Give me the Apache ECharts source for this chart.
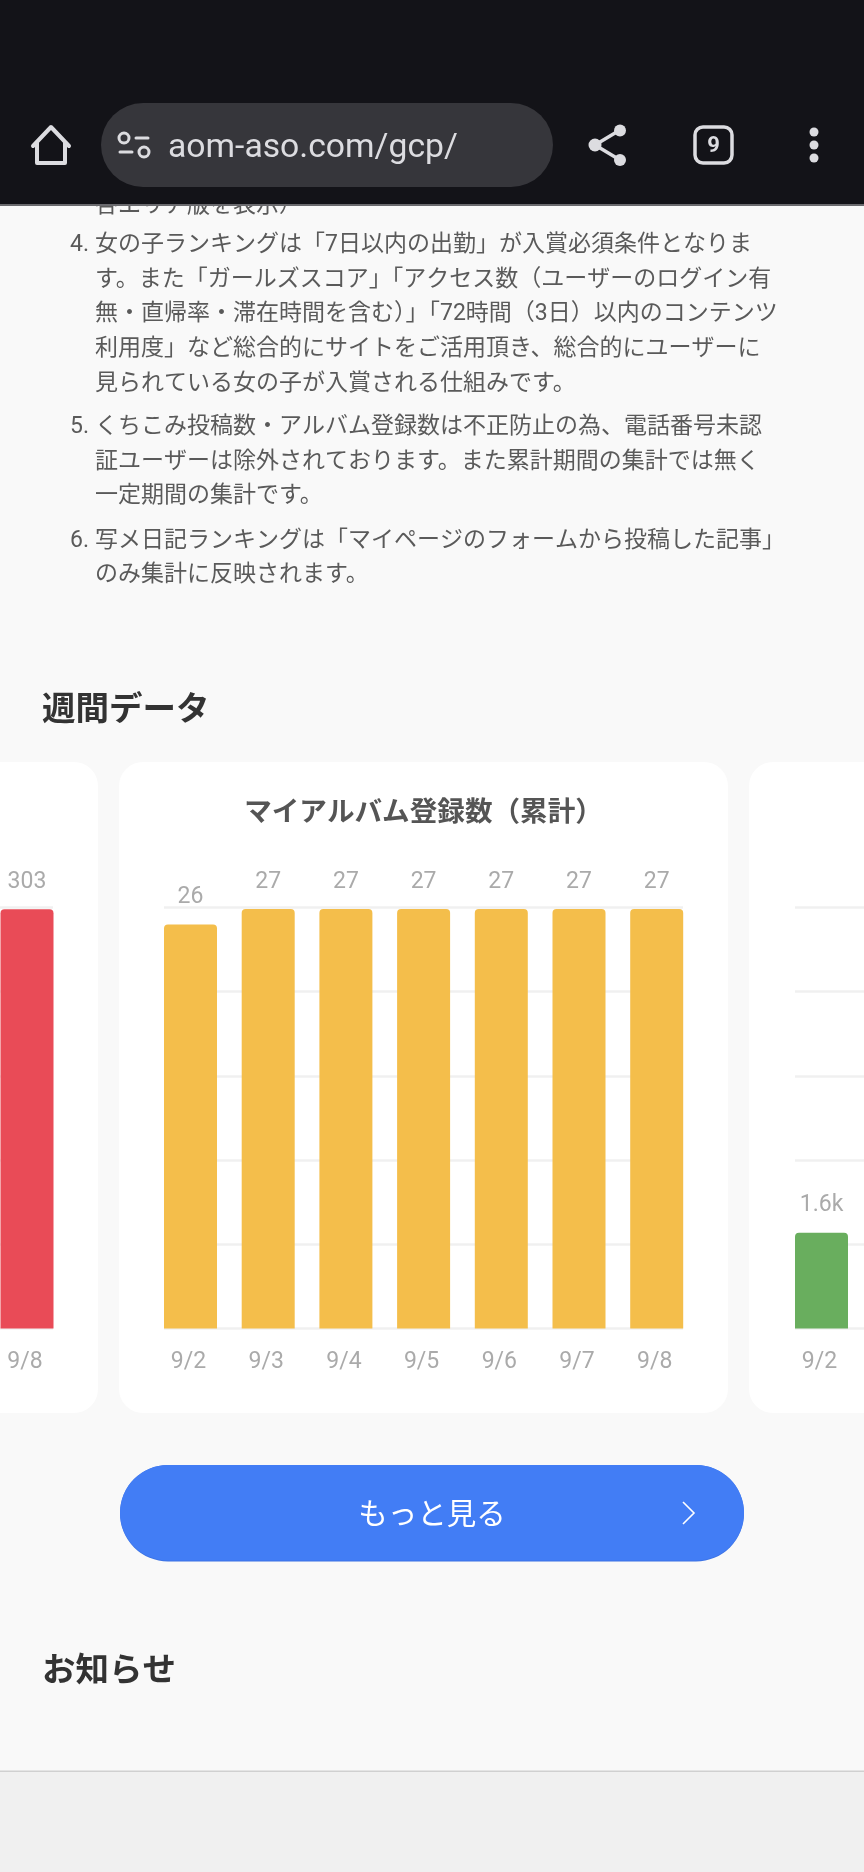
<!DOCTYPE html>
<html><head><meta charset="utf-8">
<style>html,body{margin:0;padding:0;background:#f9f9f9}#c{width:864px;height:1872px}</style>
<script src="https://cdn.jsdelivr.net/npm/echarts@6/dist/echarts.min.js"></script>
</head><body><div id="c"></div>
<script>
const JP = 'Roboto, "Noto Sans CJK JP", sans-serif';
const pageTitle = '週間データ';
const chartTitle = 'マイアルバム登録数（累計）';
const moreLabel = 'もっと見る';
const newsTitle = 'お知らせ';
const urlText = 'aom-aso.com/gcp/';
const tabCount = '9';
const clippedLine = '各エリア版を表示）';
const listNumbers = ['4.', '5.', '6.'];
const listLine4 = ['女の子ランキングは「7日以内の出勤」が入賞必須条件となりま','す。また「ガールズスコア」「アクセス数（ユーザーのログイン有','無・直帰率・滞在時間を含む）」「72時間（3日）以内のコンテンツ','利用度」など総合的にサイトをご活用頂き、総合的にユーザーに','見られている女の子が入賞される仕組みです。'];
const listLine5 = ['くちこみ投稿数・アルバム登録数は不正防止の為、電話番号未認','証ユーザーは除外されております。また累計期間の集計では無く','一定期間の集計です。'];
const listLine6 = ['写メ日記ランキングは「マイページのフォームから投稿した記事」','のみ集計に反映されます。'];

const redDays = ['9/8'];
const redValues = [303];
const albumDays = ['9/2','9/3','9/4','9/5','9/6','9/7','9/8'];
const albumValues = [26,27,27,27,27,27,27];
const greenDays = ['9/2'];
const greenValues = [1600];

const TOP = 907.5, H = 421, STEP = 77.7, BAR = 53;
const grids = [
  {left:-466, top:TOP, width:519, height:H},
  {left:164, top:TOP, width:519, height:H},
  {left:795, top:TOP, width:519, height:H},
  {left:27-STEP/2, top:TOP, width:STEP, height:H},
  {left:164-(STEP-BAR)/2, top:TOP, width:STEP*7, height:H},
  {left:821.5-STEP/2, top:TOP, width:STEP, height:H}
].map(g=>Object.assign(g,{outerBoundsMode:'none',containLabel:false}));
const maxes = [304.2, 27.1, 7030];
const xAxes = [], yAxes = [];
for (let i=0;i<3;i++){
  xAxes.push({gridIndex:i,type:'category',data:[],show:false});
  yAxes.push({gridIndex:i,type:'value',min:0,max:maxes[i],interval:maxes[i]/5,
    axisLine:{show:false},axisTick:{show:false},axisLabel:{show:false},
    splitLine:{show:true,lineStyle:{color:'#f0f0f0',width:2.5}}});
}
[redDays,albumDays,greenDays].forEach((d,i)=>{
  xAxes.push({gridIndex:i+3,type:'category',data:d,
    axisLine:{show:false},axisTick:{show:false},
    axisLabel:{color:'#aaaaaa',fontFamily:'Roboto',fontSize:23,margin:22,padding:[0,4,0,0],interval:0}});
  yAxes.push({gridIndex:i+3,type:'value',min:0,max:maxes[i],interval:maxes[i]/5,show:false,splitLine:{show:false}});
});
const fmt = p => p.value>=1000 ? (p.value/1000).toFixed(1)+'k' : String(p.value);
function barSeries(values,color,i){
  return {type:'bar',xAxisIndex:i+3,yAxisIndex:i+3,data:values,barWidth:BAR,
    itemStyle:{color:color,borderRadius:[4,4,0,0]},
    label:{show:true,position:'top',distance:15.5,color:'#aaaaaa',fontFamily:'Roboto',fontSize:23,formatter:fmt}};
}
const gfx = [];
const rect=(x,y,w,h,fill,r,z)=>gfx.push({type:'rect',z:z,shape:{x,y,width:w,height:h,r:r||0},style:{fill}});
const text=(s,x,y,size,fill,weight,z,align)=>gfx.push({type:'text',z:z,x,y,style:{text:s,fill,font:(weight||'normal')+' '+size+'px '+JP,textAlign:align||'left',textVerticalAlign:'middle'}});
// cards
rect(-511,762,609,651,'#ffffff',24,-1);
rect(119,762,609,651,'#ffffff',24,-1);
rect(749,762,609,651,'#ffffff',24,-1);
// footer
rect(0,1771,864,101,'#f0f0f0',0,-1);
rect(0,1770.5,864,1.5,'#d0d0d0',0,-1);
// list
const INK='#5a5a5a';
text(clippedLine,95,206,23,INK,'normal',1);
const rows=[[listLine4,245.5,listNumbers[0]],[listLine5,427.5,listNumbers[1]],[listLine6,541,listNumbers[2]]];
rows.forEach(([lines,y0,n])=>{
  text(n,89,y0,23,INK,'normal',1,'right');
  lines.forEach((l,i)=>text(l,95,y0+i*34.6,23,INK,'normal',1));
});
text(pageTitle,42,712,33.5,'#333333','bold',1);
text(chartTitle,423.5,814.5,27.6,'#555555','bold',1,'center');
// button
rect(120,1465,624,96.5,'#3c73e4',48,1);
rect(120,1465,624,95.5,'#427df5',47.75,1);
text(moreLabel,432,1517,29.5,'#ffffff','normal',2,'center');
gfx.push({type:'polyline',z:2,shape:{points:[[683,1502],[694,1513],[683,1524]]},style:{stroke:'#ffffff',lineWidth:1.6,fill:'none'}});
text(newsTitle,42,1673,33.5,'#333333','bold',1);
// browser chrome
rect(0,0,864,204,'#131318',0,10);
rect(0,204,864,2,'#6a6a6e',0,10);
rect(101,103,452,84,'#36363b',42,11);
const IC='#dcdce0';
const stroke=(type,shape,w,z)=>gfx.push({type,z:z||12,shape,style:{stroke:IC,fill:'none',lineWidth:w,lineCap:'round',lineJoin:'round'}});
stroke('polyline',{points:[[33,146],[51,127],[69,146]]},4);
stroke('polyline',{points:[[37,143],[37,163],[65,163],[65,143]]},4);
stroke('circle',{cx:124,cy:138,r:5},3);
stroke('line',{x1:136,y1:138,x2:148,y2:138},3);
stroke('circle',{cx:144,cy:152,r:5},3);
stroke('line',{x1:120,y1:152,x2:132,y2:152},3);
text(urlText,168,148.5,33.7,IC,'normal',12);
stroke('polyline',{points:[[620,130],[595,145],[620,160]]},3.5);
[[620,130.5,6],[620,160,6],[595,145,6.5],[814,132,4.5],[814,145,4.5],[814,158,4.5]].forEach(c=>
  gfx.push({type:'circle',z:12,shape:{cx:c[0],cy:c[1],r:c[2]},style:{fill:IC}}));
stroke('rect',{x:695,y:127,width:37,height:36,r:8},3.5);
text(tabCount,713.5,146,22,IC,'bold',12,'center');

const chart = echarts.init(document.getElementById('c'),null,{renderer:'canvas',width:864,height:1872});
chart.setOption({
  animation:false,
  backgroundColor:'#f9f9f9',
  grid:grids,
  xAxis:xAxes,
  yAxis:yAxes,
  series:[barSeries(redValues,'#e94b57',0),barSeries(albumValues,'#f4be4b',1),barSeries(greenValues,'#69ae5e',2)],
  graphic:{elements:gfx}
});
</script></body></html>
